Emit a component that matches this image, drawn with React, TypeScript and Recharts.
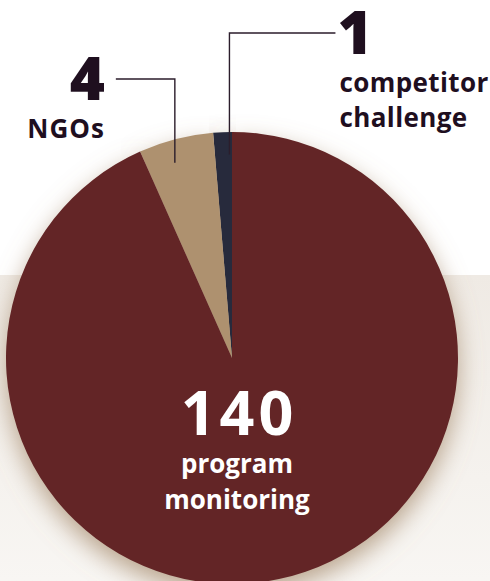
import { Cell, Pie, PieChart } from 'recharts'

// Wedge order: counter-clockwise from 12 o'clock
const categories = ['competitor challenge', 'NGOs', 'program monitoring']
const counts = [1, 4, 140] // numbers printed on the chart
const sliceSizes = [2, 8, 140] // wedge sizes as drawn (small wedges are enlarged in the original)

const COLORS = ['#272a3c', '#ae916f', '#632526']
const INK = '#1f0f1f'
const FONT = '"Open Sans", sans-serif'

const data = categories.map((name, i) => ({ name, count: counts[i], size: sliceSizes[i] }))

const RADIAN = Math.PI / 180

// callout layout for the two small wedges
const CALLOUTS: Record<number, { frac: number; rise: number; run: number; side: 'left' | 'right' }> = {
  0: { frac: 0.15, rise: 325, run: 106, side: 'right' },
  1: { frac: 0.6, rise: 279, run: 59, side: 'left' },
}

// eslint-disable-next-line @typescript-eslint/no-explicit-any
function renderLabel(props: any) {
  const { cx, cy, outerRadius, startAngle, endAngle, index, payload } = props
  const words: string[] = payload.name.split(' ')

  if (index === 2) {
    const x = cx + 5
    return (
      <g fontFamily={FONT} fontWeight={700} fill="#ffffff" textAnchor="middle">
        <text x={x + 2} y={cy + 77} fontSize={61} letterSpacing={4} fill="#ffffff">{payload.count}</text>
        {words.map((w, i) => (
          <text key={w} x={x} y={cy + 115 + i * 36} fontSize={26} fill="#ffffff">{w}</text>
        ))}
      </g>
    )
  }

  const c = CALLOUTS[index]
  const angle = startAngle + (endAngle - startAngle) * c.frac
  const r = outerRadius * 0.9
  const px = cx + r * Math.cos(-angle * RADIAN)
  const py = cy + r * Math.sin(-angle * RADIAN)
  const ey = cy - c.rise
  const ex = c.side === 'right' ? px + c.run : px - c.run
  const tx = c.side === 'right' ? ex + 4 : ex - 11
  const anchor = c.side === 'right' ? 'start' : 'end'

  return (
    <g fontFamily={FONT} fontWeight={700}>
      <polyline points={`${px},${py} ${px},${ey} ${ex},${ey}`} fill="none" stroke="#2b1d2b" strokeWidth={1.4} />
      <text x={c.side === 'right' ? tx - 2 : tx} y={ey + 21} fontSize={60} fontWeight={800} fill={INK} textAnchor={anchor}>
        {payload.count}
      </text>
      {words.map((w, i) => (
        <text
          key={w}
          x={tx}
          y={ey + 59 + i * 35}
          fontSize={26}
          letterSpacing={c.side === 'right' ? 0.4 : 1}
          fill={INK}
          textAnchor={anchor}
        >
          {w}
        </text>
      ))}
    </g>
  )
}

export default function App() {
  return (
    <div style={{ position: 'fixed', left: 0, top: 0, width: 490, height: 581, background: '#ffffff', overflow: 'hidden' }}>
      {/* light panel behind the lower half */}
      <div
        style={{
          position: 'absolute',
          left: 0,
          top: 275,
          width: 490,
          height: 306,
          background: 'linear-gradient(to bottom, #efeae4, #f8f6f3)',
        }}
      />
      <div style={{ position: 'absolute', left: 0, top: 0 }}>
        <PieChart width={490} height={581} margin={{ top: 0, right: 0, bottom: 0, left: 0 }}>
          <defs>
            {/* shadow only: blurred, offset silhouette without the source graphic */}
            <filter id="pieShadow" x="-20%" y="-20%" width="140%" height="140%">
              <feGaussianBlur in="SourceAlpha" stdDeviation="12" result="blur" />
              <feOffset in="blur" dx="0" dy="10" result="off" />
              <feFlood floodColor="#a58a6c" floodOpacity="0.75" result="col" />
              <feComposite in="col" in2="off" operator="in" />
            </filter>
          </defs>
          {/* drop shadow layer under the pie */}
          <Pie
            data={data}
            dataKey="size"
            cx={232}
            cy={358}
            outerRadius={226}
            startAngle={90}
            endAngle={450}
            stroke="none"
            fill="#000000"
            filter="url(#pieShadow)"
            isAnimationActive={false}
          >
            {data.map((entry, index) => (
              <Cell key={`shadow-${index}`} fill="#000000" filter="url(#pieShadow)" />
            ))}
          </Pie>
          <Pie
            data={data}
            dataKey="size"
            nameKey="name"
            cx={232}
            cy={358}
            outerRadius={226}
            innerRadius={0}
            startAngle={90}
            endAngle={450}
            stroke="none"
            label={renderLabel}
            labelLine={false}
            isAnimationActive={false}
          >
            {data.map((entry, index) => (
              <Cell key={`cell-${index}`} fill={COLORS[index]} />
            ))}
          </Pie>
        </PieChart>
      </div>
    </div>
  )
}
